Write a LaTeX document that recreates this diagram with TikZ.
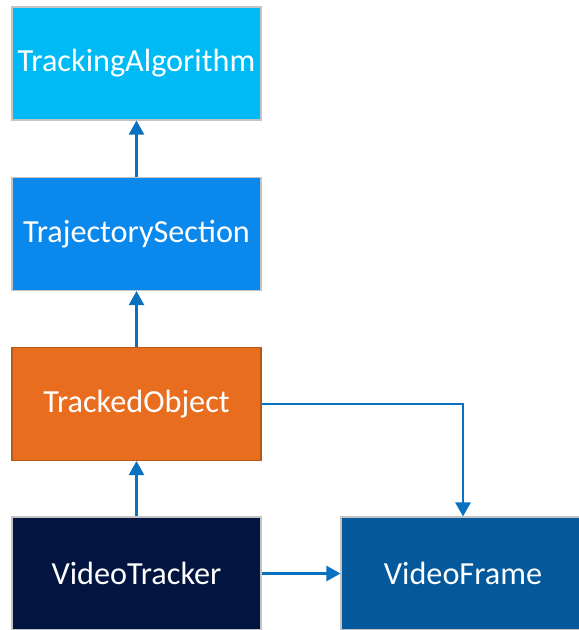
\documentclass[tikz,border=0pt]{standalone}
\usepackage{fontspec}
\setmainfont{Carlito}
\usetikzlibrary{arrows.meta}
\definecolor{algblue}{HTML}{00BAF5}
\definecolor{trajblue}{HTML}{0A88EC}
\definecolor{objorange}{HTML}{E96D1F}
\definecolor{objedge}{HTML}{B65A1C}
\definecolor{trackernavy}{HTML}{021541}
\definecolor{frameblue}{HTML}{03599C}
\definecolor{boxedge}{HTML}{C4C4C4}
\definecolor{linkblue}{HTML}{0A70C0}

\begin{document}
\begin{tikzpicture}[x=0.03cm,y=-0.03cm]
					\tikzstyle{box} = [rectangle,draw=boxedge,line width=1pt,text=white,font=\fontsize{27.5}{32}\selectfont,minimum height=3.39cm,inner sep=0pt]
					\tikzstyle{link} = [draw=linkblue,line width=1.8pt,-{Triangle[length=12pt,width=13pt]}]
					\useasboundingbox (0,0) rectangle (579,630);
					\node[box,fill=algblue,minimum width=7.47cm] (alg) at (136.5,63.5) {TrackingAlgorithm};
					\node[box,fill=trajblue,minimum width=7.47cm] (traj) at (136.5,234) {TrajectorySection};
					\node[box,fill=objorange,draw=objedge,minimum width=7.47cm] (obj) at (136.5,404) {TrackedObject};
					\node[box,fill=trackernavy,minimum width=7.47cm] (tracker) at (136.5,573.5) {VideoTracker};
					\node[box,fill=frameblue,minimum width=7.32cm] (frame) at (463,573.5) {VideoFrame};
					\draw[link] (tracker)--(obj);
					\draw[link] (obj)--(traj);
					\draw[link] (traj)--(alg);
					\draw[link] (obj.east)-|(frame.north);
					\draw[link] (tracker)--(frame);
					\end{tikzpicture}
\end{document}
